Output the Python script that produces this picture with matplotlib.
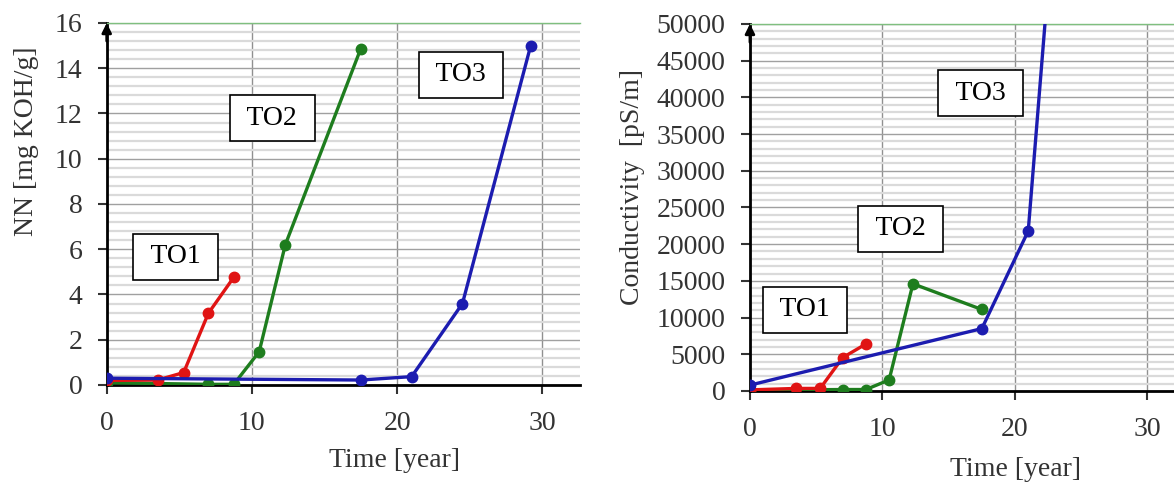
import matplotlib.pyplot as plt
from matplotlib.ticker import MultipleLocator

plt.rcParams['font.family'] = ['Liberation Serif', 'DejaVu Serif']
plt.rcParams['font.size'] = 20

# ---- data: acid number (left) ----
nn_to1_t = [0, 3.5, 5.3, 7.0, 8.75]
nn_to1 = [0.2, 0.22, 0.55, 3.17, 4.76]
nn_to2_t = [0, 7.0, 8.75, 10.5, 12.3, 17.5]
nn_to2 = [0.1, 0.03, 0.03, 1.47, 6.2, 14.87]
nn_to3_t = [0, 17.5, 21.0, 24.5, 29.2]
nn_to3 = [0.3, 0.22, 0.37, 3.6, 15.0]

# ---- data: conductivity (right) ----
cd_to1_t = [0, 3.5, 5.3, 7.0, 8.75]
cd_to1 = [150, 350, 350, 4550, 6400]
cd_to2_t = [0, 7.0, 8.75, 10.5, 12.3, 17.5]
cd_to2 = [100, 200, 200, 1500, 14600, 11100]
cd_to3_t = [0, 17.5, 21.0, 24.5]
cd_to3 = [800, 8500, 21800, 100000]

c_red = '#e01414'
c_green = '#1e7d1e'
c_blue = '#1c1cb0'

fig = plt.figure(figsize=(11.74, 4.83), dpi=100)
ax1 = fig.add_axes([0.0909, 0.2029, 0.4032, 0.7495])
ax2 = fig.add_axes([0.6388, 0.1905, 0.3612, 0.760])


def style_axes(ax, ymax, major, minor, xmax):
    ax.set_xlim(0, xmax)
    ax.set_ylim(0, ymax)
    ax.xaxis.set_major_locator(MultipleLocator(10))
    ax.yaxis.set_major_locator(MultipleLocator(major))
    ax.yaxis.set_minor_locator(MultipleLocator(minor))
    ax.grid(axis='y', which='minor', color='#dadada', lw=1.6, zorder=0)
    ax.grid(axis='y', which='major', color='#a0a0a0', lw=1.0, zorder=0)
    ax.grid(axis='x', which='major', color='#909090', lw=1.0, zorder=0)
    ax.set_axisbelow(True)
    ax.spines['right'].set_visible(False)
    ax.spines['top'].set_color('#7fbf7f')
    ax.spines['top'].set_linewidth(1.0)
    ax.spines['left'].set_linewidth(2.0)
    ax.spines['bottom'].set_linewidth(2.0)
    ax.tick_params(which='major', direction='out', length=6.5, width=1.5,
                   colors='#333333', labelcolor='#333333')
    ax.tick_params(axis='y', pad=11)
    ax.tick_params(axis='x', pad=12)
    ax.tick_params(which='minor', length=0)
    # arrow head on the y axis
    ax.annotate('', xy=(0, 1.0), xytext=(0, 0.95), xycoords='axes fraction',
                arrowprops=dict(arrowstyle='-|>', color='black', lw=2,
                                mutation_scale=14, shrinkA=0, shrinkB=0))


def draw(ax, t, y, c):
    ax.plot(t, y, color=c, lw=2.4, marker='o', ms=7.5, mfc=c, mec=c, zorder=3)


box = dict(boxstyle='square,pad=0.38', fc='white', ec='black', lw=1.2)

# ---- left panel ----
style_axes(ax1, 16, 2, 0.4, 32.6)
draw(ax1, nn_to2_t, nn_to2, c_green)
draw(ax1, nn_to1_t, nn_to1, c_red)
draw(ax1, nn_to3_t, nn_to3, c_blue)
ax1.set_ylabel('NN [mg KOH/g]', color='#333333')
ax1.yaxis.set_label_coords(-0.142, 0.674)
ax1.set_xlabel('Time [year]', color='#333333')
ax1.xaxis.set_label_coords(0.609, -0.175)

ax1.text(4.75, 5.66, ' TO1 ', ha='center', va='center', bbox=box, zorder=5)
ax1.text(11.4, 11.8, ' TO2 ', ha='center', va='center', bbox=box, zorder=5)
ax1.text(24.4, 13.72, ' TO3 ', ha='center', va='center', bbox=box, zorder=5)

# ---- right panel ----
style_axes(ax2, 50000, 5000, 1000, 32.0)
draw(ax2, cd_to2_t, cd_to2, c_green)
draw(ax2, cd_to1_t, cd_to1, c_red)
draw(ax2, cd_to3_t, cd_to3, c_blue)
ax2.set_ylabel('Conductivity  [pS/m]', color='#333333')
ax2.yaxis.set_label_coords(-0.248, 0.555)
ax2.set_xlabel('Time [year]', color='#333333')
ax2.xaxis.set_label_coords(0.627, -0.18)

ax2.text(4.15, 11040, ' TO1 ', ha='center', va='center', bbox=box, zorder=5)
ax2.text(11.36, 22100, ' TO2 ', ha='center', va='center', bbox=box, zorder=5)
ax2.text(17.41, 40550, ' TO3 ', ha='center', va='center', bbox=box, zorder=5)

fig.savefig('out.png', dpi=100)
